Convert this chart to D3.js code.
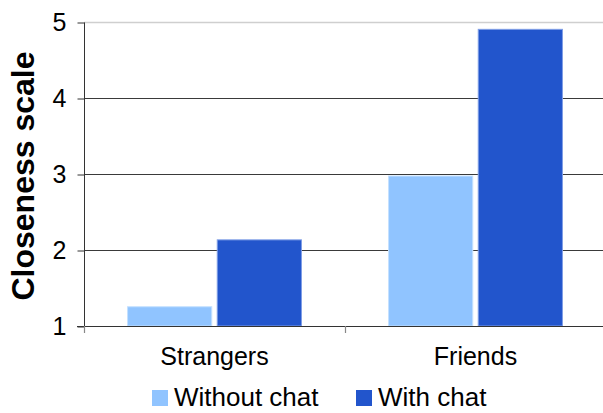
<!DOCTYPE html>
<html><head><meta charset="utf-8">
<script src="https://cdn.jsdelivr.net/npm/d3@7"></script>
<style>body{margin:0;background:#fff}svg{display:block}text{font-family:"Liberation Sans",Arial,sans-serif;fill:#000}</style>
</head><body>
<svg id="c" width="603" height="413"></svg>
<script>
const categories = ["Strangers", "Friends"];
const seriesNames = ["Without chat", "With chat"];
const withoutChat = [1.26, 2.98];
const withChat = [2.14, 4.91];
const yTicks = [1, 2, 3, 4, 5];
const colors = ["#90C4FF", "#2255CC"];
const strokes = ["#c4e0ff", "#7f9ee6"];

const svg = d3.select("#c");
const pLeft = 84, pRight = 606, pTop = 22, pBottom = 326;
const y = d3.scaleLinear().domain([1, 5]).range([pBottom, pTop]);
const x0 = d3.scaleBand().domain(categories).range([pLeft, pRight]);
const x1 = d3.scaleBand().domain(seriesNames).range([0, x0.bandwidth()]).paddingInner(0.05).paddingOuter(0.48);

// gridlines
svg.append("g").selectAll("line").data(yTicks.filter(d => d > 1)).join("line")
  .attr("x1", pLeft).attr("x2", 603)
  .attr("y1", d => Math.round(y(d)) + 0.5).attr("y2", d => Math.round(y(d)) + 0.5)
  .attr("stroke", d => d === 5 ? "#cfcfcf" : "#3a3a3a").attr("stroke-width", d => d === 5 ? 1.5 : 1);

// bars
const data = categories.map((c, i) => ({c, vals: [withoutChat[i], withChat[i]]}));
const g = svg.append("g").selectAll("g").data(data).join("g")
  .attr("transform", d => `translate(${x0(d.c)},0)`);
g.selectAll("rect").data(d => d.vals.map((v, j) => ({v, s: seriesNames[j], j}))).join("rect")
  .attr("x", d => x1(d.s) + 0.5).attr("width", x1.bandwidth() - 1)
  .attr("y", d => y(d.v) + 0.5).attr("height", d => y(1) - y(d.v) - 0.5)
  .attr("fill", d => colors[d.j]).attr("stroke", d => strokes[d.j]).attr("stroke-width", 1);

// y axis
const yAxis = d3.axisLeft(y).tickValues(yTicks).tickSize(7).tickPadding(11).tickFormat(d3.format("d"));
const ya = svg.append("g").attr("transform", `translate(${pLeft + 0.5},0.5)`).call(yAxis);
ya.select(".domain").attr("stroke", "#333").attr("d", `M0,${pTop}V${pBottom + 6}`);
ya.selectAll(".tick line").attr("stroke", "#333");
ya.selectAll(".tick text").style("font-size", "25px").style("font-family", "'Liberation Sans',Arial,sans-serif").attr("fill", "#000");

// x axis baseline and ticks
svg.append("line").attr("x1", pLeft - 7).attr("x2", 603).attr("y1", pBottom + 0.5).attr("y2", pBottom + 0.5).attr("stroke", "#333");
svg.append("g").selectAll("line").data(categories).join("line")
  .attr("x1", d => x0(d) + 0.5).attr("x2", d => x0(d) + 0.5)
  .attr("y1", pBottom).attr("y2", pBottom + 7).attr("stroke", "#888").attr("stroke-width", 1.2);
svg.append("g").selectAll("text").data(categories).join("text")
  .attr("x", d => x0(d) + x0.bandwidth() / 2).attr("y", 365)
  .attr("text-anchor", "middle").style("font-size", "25px").text(d => d);

// title
svg.append("text").attr("transform", `translate(34,${(pTop + pBottom) / 2 + 2}) rotate(-90)`)
  .attr("text-anchor", "middle").style("font-size", "32px").style("font-weight", "bold").text("Closeness scale");

// legend
const legX = [152, 356];
const lg = svg.append("g").selectAll("g").data(seriesNames).join("g")
  .attr("transform", (d, i) => `translate(${legX[i]},390)`);
lg.append("rect").attr("width", 16).attr("height", 16).attr("fill", (d, i) => colors[i]);
lg.append("text").attr("x", 22).attr("y", 16).style("font-size", "26px").text(d => d);
</script>
</body></html>
